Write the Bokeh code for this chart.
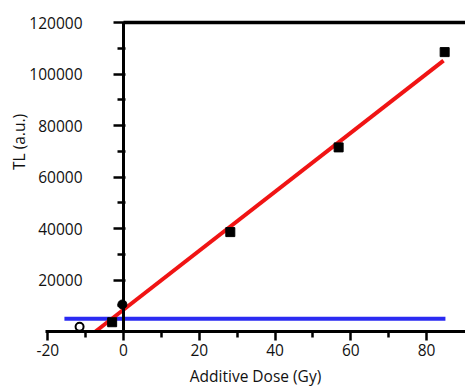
import math
from bokeh.plotting import figure
from bokeh.models import (LinearAxis, FixedTicker, Range1d, Label, ColumnDataSource,
                          BasicTickFormatter)
from bokeh.embed import file_html
from bokeh.resources import INLINE

# ---- data ----
dose = [-3.0, -0.3, 28.2, 56.8, 84.8]
tl = [3600, 10500, 38600, 71500, 108500]
point_marker = ["square", "circle", "square", "square", "square"]
open_dose = [-11.6]
open_tl = [1800]
fit_dose = [-7.4, 84.5]
fit_tl = [0, 105200]
base_dose = [-15.6, 85.0]
base_tl = [4950, 4950]
x_ticks = [-20, 0, 20, 40, 60, 80]
x_tick_labels = ["-20", "0", "20", "40", "60", "80"]
x_minor = [-10, 10, 30, 50, 70]
y_ticks = [20000, 40000, 60000, 80000, 100000, 120000]
y_minor = [10000, 30000, 50000, 70000, 90000, 110000]

FONT = "Open Sans"
FS = "15.5px"

p = figure(width=465, height=389, output_backend="svg", toolbar_location=None,
           x_range=Range1d(-32.48, 90.3), y_range=Range1d(-22524, 128544),
           x_axis_type=None, y_axis_type=None,
           min_border_left=0, min_border_right=0, min_border_top=0, min_border_bottom=0)
p.outline_line_color = None
p.xgrid.visible = False
p.ygrid.visible = False
p.background_fill_color = "white"

# x axis at y = 0
xa = LinearAxis(fixed_location=0, bounds=(-20.5, 90.3),
                ticker=FixedTicker(ticks=x_ticks, minor_ticks=x_minor),
                formatter=BasicTickFormatter(use_scientific=False))
xa.major_label_overrides = dict(zip(x_ticks, x_tick_labels))
xa.axis_line_width = 3
xa.major_tick_line_width = 2.5
xa.minor_tick_line_width = 2.5
xa.major_tick_out = 9
xa.major_tick_in = 0
xa.minor_tick_out = 6
xa.minor_tick_in = 0
xa.major_label_standoff = 3
xa.major_label_text_font = FONT
xa.major_label_text_font_size = FS
xa.major_label_text_color = "#111111"
xa.axis_label = "Additive Dose (Gy)"
xa.axis_label_text_font = FONT
xa.axis_label_text_font_size = FS
xa.axis_label_text_font_style = "normal"
xa.axis_label_text_color = "#111111"
xa.axis_label_standoff = 6
p.add_layout(xa, "below")

# y axis at x = 0
ya = LinearAxis(fixed_location=0, bounds=(0, 120000),
                ticker=FixedTicker(ticks=y_ticks, minor_ticks=y_minor),
                formatter=BasicTickFormatter(use_scientific=False))
ya.axis_line_width = 3
ya.major_tick_line_width = 2.5
ya.minor_tick_line_width = 2.5
ya.major_tick_out = 10
ya.major_tick_in = 2
ya.minor_tick_out = 6
ya.minor_tick_in = 2
ya.major_label_standoff = 31
ya.major_label_text_font = FONT
ya.major_label_text_font_size = FS
ya.major_label_text_color = "#111111"
p.add_layout(ya, "left")

# top border line
p.ray(x=[0], y=[120000], length=0, angle=0, line_color="black", line_width=3.5)

# y axis title
p.add_layout(Label(x=-27.5, y=73600, text="TL (a.u.)", angle=math.pi / 2,
                   text_align="center", text_baseline="middle",
                   text_font=FONT, text_font_size=FS, text_color="#111111"))

# baseline (blue) and fit (red)
p.line(base_dose, base_tl, line_color="#2a2af2", line_width=4)
p.line(fit_dose, fit_tl, line_color="#f01414", line_width=4)

# data points
src = ColumnDataSource(dict(x=dose, y=tl, m=point_marker))
p.scatter("x", "y", source=src, marker="m", size=9, fill_color="black", line_color="black")
p.scatter(open_dose, open_tl, marker="circle", size=8, fill_color=None,
          line_color="black", line_width=2)

open("out.html", "w").write(file_html(p, INLINE))
